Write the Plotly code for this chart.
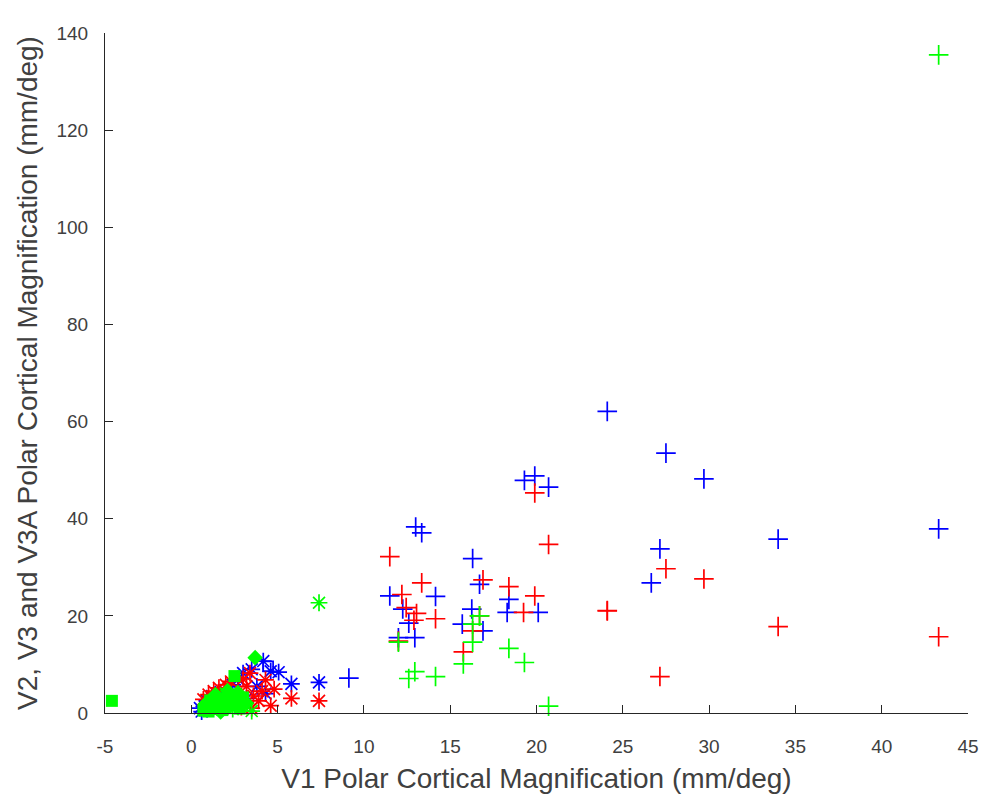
import plotly.graph_objects as go

# ---- Large-magnification subjects ('+' markers) ----
v2_plus_x = [19.9, 19.3, 20.7, 13.0, 13.35, 16.3, 11.5, 14.15, 16.7, 18.4, 12.25, 16.25, 18.3, 20.1,
             12.6, 15.7, 16.9, 12.95, 12.0, 9.13, 24.1, 27.5, 29.7, 27.15, 26.65, 34.0, 43.3]
v2_plus_y = [48.8, 47.9, 46.5, 38.3, 37.1, 31.8, 24.1, 24.0, 26.5, 23.4, 21.4, 21.4, 20.7, 20.7,
             18.5, 18.3, 16.9, 15.5, 15.5, 7.2, 62.1, 53.5, 48.2, 33.8, 26.8, 35.8, 37.9]

v3_plus_x = [19.9, 20.7, 11.5, 13.35, 16.9, 18.4, 19.9, 12.2, 12.45, 13.05, 14.15, 12.9, 19.25, 24.1,
             16.7, 16.3, 12.0, 15.76, 27.5, 29.7, 24.1, 27.15, 34.0, 43.3]
v3_plus_y = [45.3, 34.7, 32.2, 26.8, 27.4, 26.0, 24.1, 24.4, 21.7, 20.5, 19.4, 19.1, 20.7, 21.0,
             20.0, 16.9, 14.8, 12.6, 29.7, 27.6, 21.1, 7.5, 17.8, 15.7]

v3a_plus_x = [16.7, 16.3, 16.3, 12.0, 18.4, 15.76, 19.3, 12.95, 12.6, 14.15, 20.7, 43.3]
v3a_plus_y = [20.0, 18.3, 14.6, 14.6, 13.3, 10.1, 10.4, 8.5, 7.1, 7.5, 1.4, 135.5]

# ---- Small-magnification subjects ('*' markers) ----
v2_star_x = [0.5, 0.6, 0.9, 1.2, 1.7, 2.4, 3.0, 3.5, 4.17, 4.6, 5.06, 5.8, 7.4, 3.8, 2.7, 4.3, 3.2]
v2_star_y = [1.0, 0.3, 2.5, 3.5, 4.3, 5.8, 8.2, 9.0, 10.7, 8.6, 8.4, 6.0, 6.3, 5.5, 7.0, 4.0, 3.0]

v2_sq_x = [4.45]
v2_sq_y = [9.6]

v3_star_x = [0.7, 1.0, 1.3, 1.6, 2.0, 2.3, 2.6, 3.0, 3.4, 3.2, 3.6, 4.1, 4.6, 4.8, 5.8, 7.4, 3.9,
             2.2, 2.9, 1.5, 4.3, 3.5]
v3_star_y = [2.8, 3.8, 4.5, 5.2, 5.8, 6.5, 4.0, 7.0, 8.2, 5.5, 3.5, 4.5, 1.5, 4.9, 3.0, 2.5, 2.5,
             2.8, 1.2, 2.0, 6.8, 1.0]

v3a_star_x = [7.4, 3.5, 3.0, 2.4, 2.0]
v3a_star_y = [22.7, 0.4, 1.5, 0.8, 4.0]

v3a_sq_x = [-4.6, 2.5, 0.7, 0.9, 1.0, 1.2, 1.3, 1.5, 1.6, 1.8, 1.9, 2.0, 2.2, 2.3, 2.6, 2.8, 3.0, 1.1]
v3a_sq_y = [2.5, 7.6, 0.5, 1.2, 0.3, 2.0, 0.8, 1.5, 3.0, 0.6, 2.2, 1.0, 3.5, 1.8, 2.6, 0.9, 3.2, 2.6]

v3a_dm_x = [3.7, 0.8, 1.4, 2.1, 2.7, 3.2, 1.7]
v3a_dm_y = [11.4, 1.8, 3.8, 4.6, 4.2, 2.0, 0.2]

x_ticks = [-5, 0, 5, 10, 15, 20, 25, 30, 35, 40, 45]
y_ticks = [0, 20, 40, 60, 80, 100, 120, 140]

BLUE, RED, GREEN = "#0000ff", "#ff0000", "#00ff00"
FONT = "Liberation Sans, Arial, sans-serif"
TEXT_COLOR = "#404040"

fig = go.Figure()


def add(x, y, color, symbol, size, filled=False):
    marker = dict(symbol=symbol, size=size, color=color)
    if not filled:
        marker["line"] = dict(color=color, width=1.7)
    else:
        marker["line"] = dict(width=0)
    fig.add_trace(go.Scatter(x=x, y=y, mode="markers", marker=marker,
                             showlegend=False, cliponaxis=False))


# V2 (blue), then V3 (red), then V3A (green) drawn on top
add(v2_plus_x, v2_plus_y, BLUE, "cross-thin-open", 14)
add(v2_star_x, v2_star_y, BLUE, "asterisk-open", 14)
add(v2_sq_x, v2_sq_y, BLUE, "square-open", 10)
add(v3_plus_x, v3_plus_y, RED, "cross-thin-open", 14)
add(v3_star_x, v3_star_y, RED, "asterisk-open", 14)
add(v3a_plus_x, v3a_plus_y, GREEN, "cross-thin-open", 14)
add(v3a_star_x, v3a_star_y, GREEN, "asterisk-open", 14)
add(v3a_sq_x, v3a_sq_y, GREEN, "square", 12, filled=True)
add(v3a_dm_x, v3a_dm_y, GREEN, "diamond", 12, filled=True)

axis_color = "#262626"
common = dict(showgrid=False, zeroline=False, showline=True, linecolor=axis_color, linewidth=1,
              ticks="inside", ticklen=8, tickcolor=axis_color, tickwidth=1,
              tickfont=dict(family=FONT, size=19, color=TEXT_COLOR),
              mirror=False)

fig.update_layout(
    width=991, height=801,
    margin=dict(l=105, r=19, t=33, b=88),
    paper_bgcolor="white", plot_bgcolor="white",
    xaxis=dict(range=[-5, 45], tickvals=x_ticks, ticktext=[str(v) for v in x_ticks],
               ticklabelstandoff=16,
               title=dict(text="V1 Polar Cortical Magnification (mm/deg)", standoff=12,
                          font=dict(family=FONT, size=28, color=TEXT_COLOR)),
               **common),
    yaxis=dict(range=[0, 140], tickvals=y_ticks, ticktext=[str(v) for v in y_ticks],
               ticklabelstandoff=12,
               title=dict(text="V2, V3 and V3A Polar Cortical Magnification (mm/deg)", standoff=10,
                          font=dict(family=FONT, size=28, color=TEXT_COLOR)),
               **common),
)

fig.write_html("out.html")
